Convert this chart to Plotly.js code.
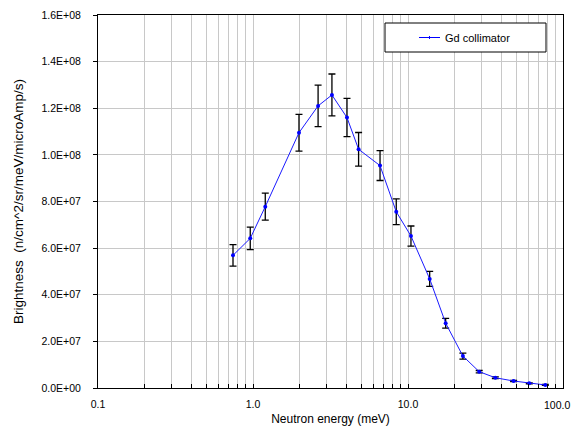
<!DOCTYPE html>
<html>
<head>
<meta charset="utf-8">
<script src="https://cdn.plot.ly/plotly-3.0.1.min.js"></script>
<style>html,body{margin:0;padding:0;background:#fff;}#chart{width:574px;height:432px;}</style>
</head>
<body>
<div id="chart"></div>
<script>
const energy = [0.743, 0.96, 1.2, 1.98, 2.63, 3.23, 4.04, 4.8, 6.6, 8.4, 10.45, 13.8, 17.5, 22.6, 28.8, 36.6, 48, 60.6, 76.9];
const brightness = [5.69e7, 6.42e7, 7.78e7, 1.095e8, 1.21e8, 1.257e8, 1.16e8, 1.024e8, 9.54e7, 7.56e7, 6.52e7, 4.68e7, 2.78e7, 1.37e7, 7.0e6, 4.4e6, 3.0e6, 2.0e6, 1.3e6];
const errors = [4.6e6, 4.85e6, 5.8e6, 7.9e6, 8.9e6, 9.0e6, 8.2e6, 7.2e6, 6.4e6, 5.5e6, 4.3e6, 3.2e6, 2.1e6, 1.3e6, 5e5, 4e5, 3e5, 2e5, 2e5];
const seriesName = "Gd collimator";
const yTickVals = [0, 2e7, 4e7, 6e7, 8e7, 1e8, 1.2e8, 1.4e8, 1.6e8];
const yTickText = ["0.0E+00","2.0E+07","4.0E+07","6.0E+07","8.0E+07","1.0E+08","1.2E+08","1.4E+08","1.6E+08"];
const decades = [0.1, 1, 10, 100];
const xDecadeText = ["0.1", "1.0", "10.0", "100.0"];

const xTickVals = [];
const xTickText = [];
decades.forEach((d, i) => {
  if (i < decades.length - 1) {
    for (let k = 1; k <= 9; k++) {
      xTickVals.push(+(d * k).toPrecision(3));
      xTickText.push(k === 1 ? xDecadeText[i] : "");
    }
  } else {
    xTickVals.push(d);
    xTickText.push(""); // drawn as annotation below so it is not clipped at the page edge
  }
});

const trace = {
  x: energy,
  y: brightness,
  name: seriesName,
  type: 'scatter',
  mode: 'lines+markers',
  showlegend: false,
  line: {color: '#1a1aff', width: 1},
  marker: {color: '#0000ff', size: 4},
  error_y: {type: 'data', array: errors, visible: true, color: '#000000', thickness: 1.3, width: 3.5}
};

// plot area in px: x 98..563, y 15..388
const L = 98, R = 563, T = 15, B = 388;
const px = v => (v - L) / (R - L);
const py = v => (B - v) / (B - T);

const layout = {
  width: 574, height: 432,
  margin: {l: L, r: 574 - R, t: T, b: 432 - B},
  paper_bgcolor: '#ffffff', plot_bgcolor: '#ffffff',
  font: {family: 'Liberation Sans, Arial, sans-serif', size: 10.5, color: '#000'},
  showlegend: false,
  xaxis: {
    type: 'log', range: [-1, 2],
    tickmode: 'array', tickvals: xTickVals, ticktext: xTickText,
    ticks: 'inside', ticklen: 4, tickcolor: '#000',
    ticklabelstandoff: 6,
    showgrid: true, gridcolor: '#c8c8c8', gridwidth: 1,
    showline: true, linecolor: '#000', linewidth: 1, mirror: true,
    title: {text: 'Neutron energy (meV)', font: {size: 12}, standoff: 6},
    zeroline: false
  },
  yaxis: {
    range: [0, 1.6e8],
    tickmode: 'array', tickvals: yTickVals, ticktext: yTickText,
    ticks: 'outside', ticklen: 4, tickcolor: '#000',
    ticklabelstandoff: 10,
    showgrid: true, gridcolor: '#c8c8c8', gridwidth: 1,
    showline: true, linecolor: '#000', linewidth: 1, mirror: true,
    title: {text: 'Brightness  (n/cm^2/sr/meV/microAmp/s)', font: {size: 13.5}, standoff: 14},
    zeroline: false
  },
  shapes: [
    {type: 'rect', xref: 'paper', yref: 'paper', x0: px(385), x1: px(546), y0: py(52), y1: py(23),
     line: {color: '#000', width: 1}, fillcolor: '#ffffff', layer: 'above'},
    {type: 'line', xref: 'paper', yref: 'paper', x0: px(419), x1: px(440), y0: py(37.5), y1: py(37.5),
     line: {color: '#0000ff', width: 1}, layer: 'above'},
    {type: 'line', xref: 'paper', yref: 'paper', x0: px(429.5), x1: px(429.5), y0: py(36), y1: py(39),
     line: {color: '#0000ff', width: 1}, layer: 'above'}
  ],
  annotations: [
    {xref: 'paper', yref: 'paper', x: px(443), y: py(37.5), xanchor: 'left', yanchor: 'middle',
     text: seriesName, showarrow: false, font: {size: 11, color: '#000'}},
    {xref: 'x', yref: 'paper', x: Math.log10(decades[decades.length - 1]), y: 0, xanchor: 'right', yanchor: 'top',
     xshift: 9, yshift: -9, text: xDecadeText[xDecadeText.length - 1], showarrow: false,
     font: {size: 10.5, color: '#000'}}
  ]
};

Plotly.newPlot('chart', [trace], layout, {displayModeBar: false, staticPlot: true});
</script>
</body>
</html>
